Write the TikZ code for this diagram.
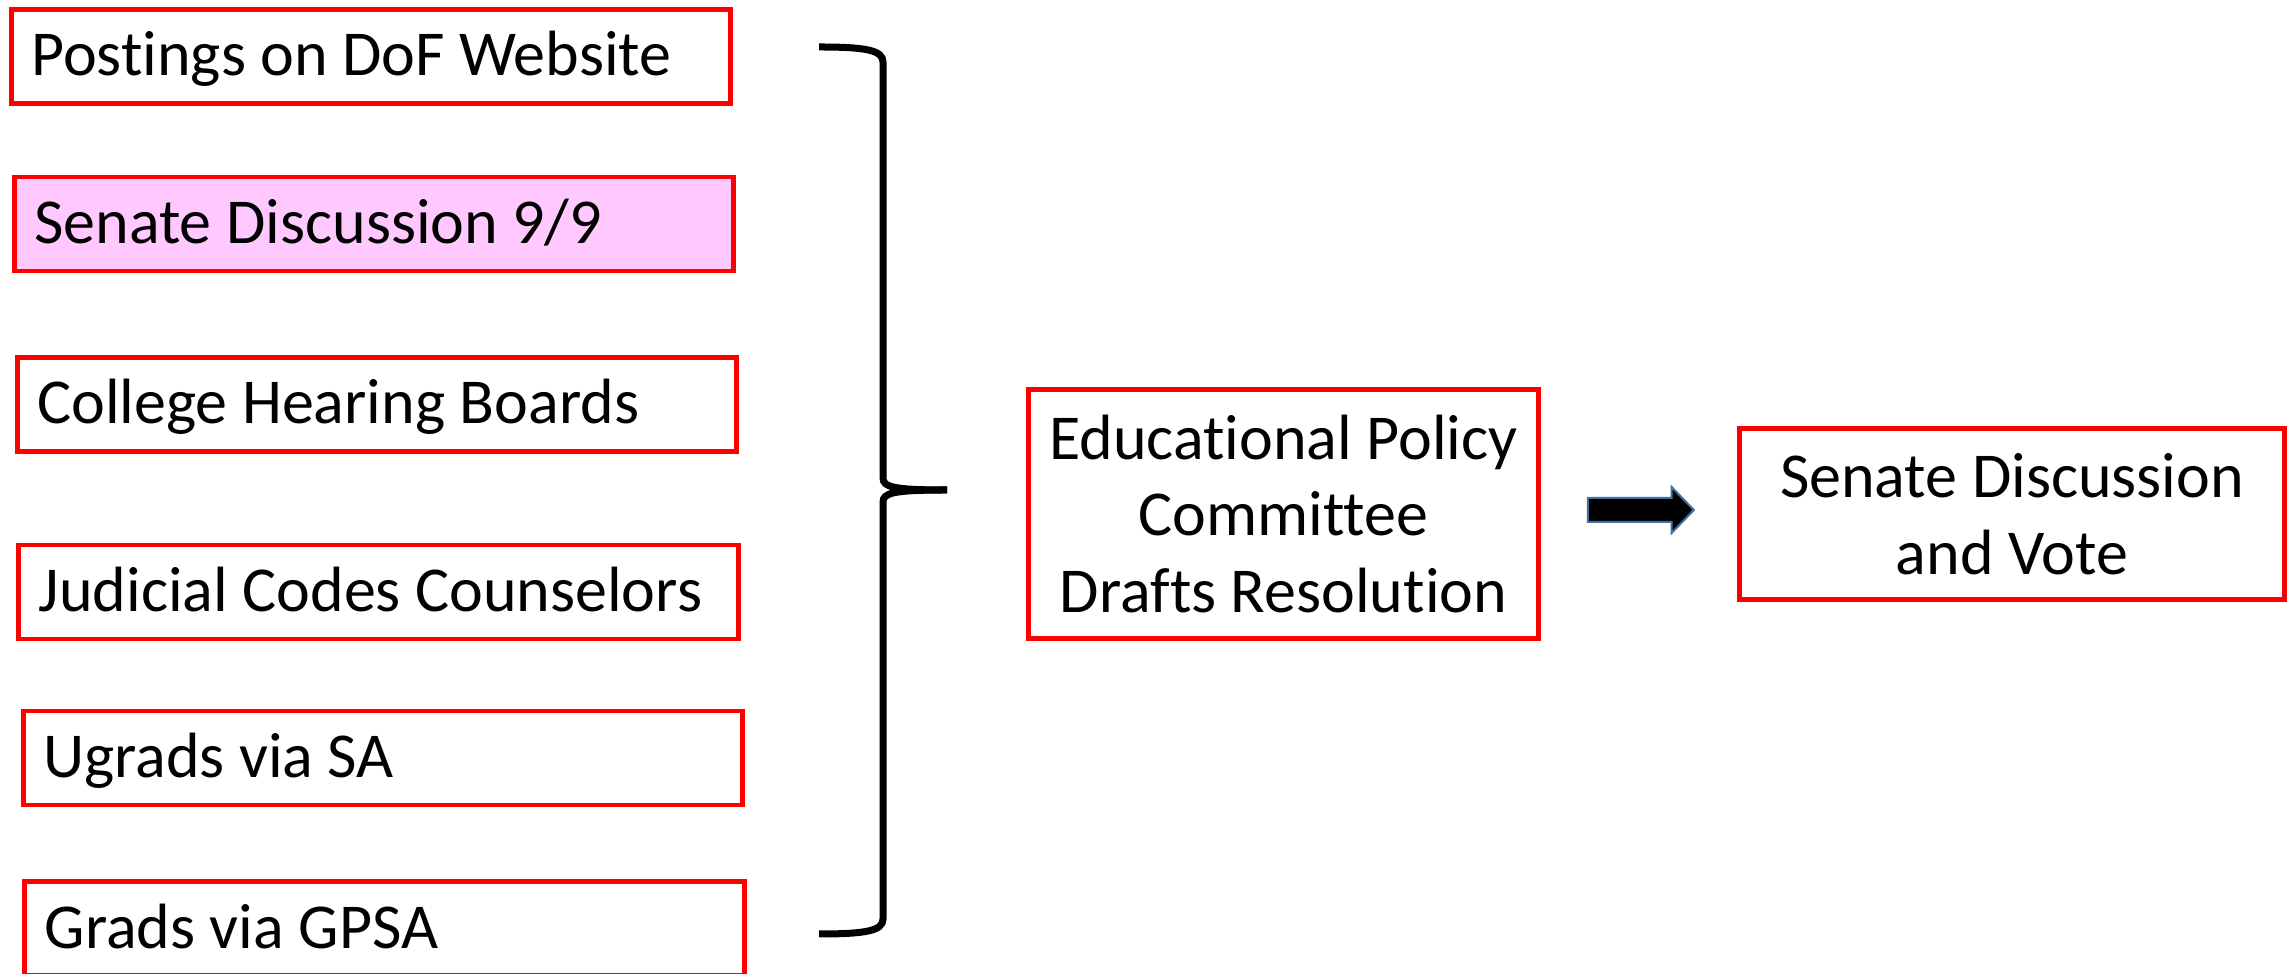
\documentclass[tikz,border=0pt]{standalone}
\usepackage{fontspec}
\setmainfont{Carlito}[Ligatures={NoCommon}]
\usetikzlibrary{shapes.arrows}
\definecolor{boxred}{RGB}{255,0,0}
\definecolor{boxpink}{RGB}{255,201,255}
\definecolor{arrowedge}{RGB}{65,113,156}
\begin{document}
\begin{tikzpicture}[x=0.01cm,y=-0.01cm,
	every node/.style={font=\fontsize{18.2}{21.8}\selectfont},
	srcbox/.style={draw=boxred,line width=0.047cm,text width=6.79cm,inner xsep=0.2cm,align=flush left,
		minimum height=0.94cm,text height=0.5cm,text depth=0.11cm},
	stepbox/.style={draw=boxred,line width=0.047cm,align=center}]
	\useasboundingbox (0,0) rectangle (2293,974);
	% left column
	\node[srcbox] (dof) at (371,56.5) {Postings on DoF Website};
	\node[srcbox,fill=boxpink] (senate) at (374,224) {Senate Discussion 9/9};
	\node[srcbox] (hearing) at (377,404.5) {College Hearing Boards};
	\node[srcbox] (judicial) at (378.5,592) {Judicial Codes Counselors};
	\node[srcbox] (ugrad) at (383,758) {Ugrads via SA};
	\node[srcbox] (grad) at (384.5,928.5) {Grads via GPSA};
	% brace
	\draw[line width=0.07cm] (819,47) .. controls (865,47) and (883,50) .. (883,62) -- (883,478)
		.. controls (883,487) and (893,490) .. (947,490);
	\draw[line width=0.07cm] (819,934) .. controls (865,934) and (883,931) .. (883,919) -- (883,502)
		.. controls (883,493) and (893,490) .. (947,490);
	% right side
	\node[stepbox,minimum width=5.1cm,minimum height=2.49cm] (epc) at (1283.5,514)
		{Educational Policy\\Committee\\Drafts Resolution};
	\node[stepbox,minimum width=5.45cm,minimum height=1.71cm] (vote) at (2012,514)
		{Senate Discussion\\and Vote};
	\node[single arrow,fill=black,draw=arrowedge,line width=0.02cm,inner sep=0pt,
		text height=0.22cm,text depth=0pt,minimum height=1.06cm,
		single arrow head extend=0.11cm,single arrow tip angle=92] (arr) at (1635,510) {};
\end{tikzpicture}
\end{document}
